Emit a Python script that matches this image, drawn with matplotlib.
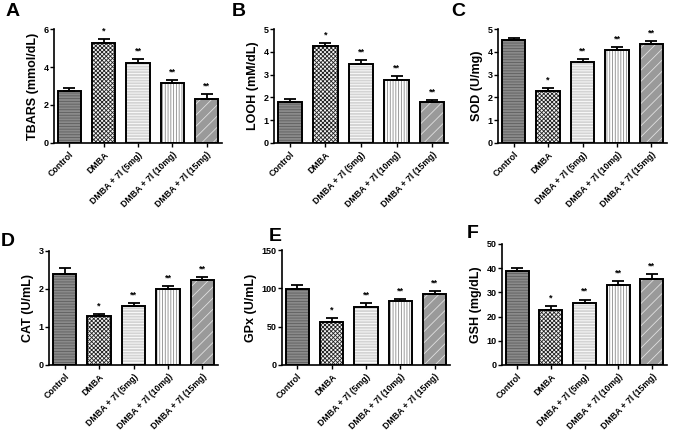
import numpy as np
import matplotlib.pyplot as plt

plt.rcParams['font.family'] = ['Liberation Sans', 'DejaVu Sans']
plt.rcParams['font.weight'] = 'bold'
plt.rcParams['hatch.linewidth'] = 0.6

groups = ['Control', 'DMBA', 'DMBA + 7l (5mg)', 'DMBA + 7l (10mg)', 'DMBA + 7l (15mg)']
stars = ['', '*', '**', '**', '**']

tbars = [2.75, 5.28, 4.22, 3.15, 2.30]
tbars_err = [0.13, 0.20, 0.22, 0.15, 0.30]
looh = [1.78, 4.25, 3.45, 2.75, 1.78]
looh_err = [0.13, 0.12, 0.20, 0.17, 0.12]
sod = [4.52, 2.30, 3.55, 4.08, 4.33]
sod_err = [0.10, 0.10, 0.15, 0.14, 0.13]
cat = [2.40, 1.28, 1.55, 2.00, 2.23]
cat_err = [0.15, 0.05, 0.07, 0.08, 0.08]
gpx = [99, 56, 76, 83, 92]
gpx_err = [5, 5, 5, 3, 4]
gsh = [39.0, 22.8, 25.7, 33.2, 35.6]
gsh_err = [1.2, 1.7, 1.3, 1.4, 2.0]

# (facecolor, hatch, hatch colour)
styles = [
    ('#8a8a8a', '------', '#5e5e5e'),
    ('#f4f4f4', 'xxxxxxxx', '#222222'),
    ('#d4d4d4', '------', 'white'),
    ('white', '||||||', '#8a8a8a'),
    ('#9a9a9a', '///', '#e0e0e0'),
]

panels = [
    ('A', tbars, tbars_err, 'TBARS (mmol/dL)', 6, [0, 2, 4, 6], [54, 29, 222, 143], (13, 12)),
    ('B', looh, looh_err, 'LOOH (mM/dL)', 5, [0, 1, 2, 3, 4, 5], [274, 29, 448, 143], (239, 11)),
    ('C', sod, sod_err, 'SOD (U/mg)', 5, [0, 1, 2, 3, 4, 5], [498, 29, 667, 143], (458, 12)),
    ('D', cat, cat_err, 'CAT (U/mL)', 3, [0, 1, 2, 3], [49, 251, 218, 365], (8, 242)),
    ('E', gpx, gpx_err, 'GPx (U/mL)', 150, [0, 50, 100, 150], [282, 250, 450, 365], (275, 237)),
    ('F', gsh, gsh_err, 'GSH (mg/dL)', 50, [0, 10, 20, 30, 40, 50], [502, 244, 667, 365], (473, 233)),
]

W, H = 675, 430
fig = plt.figure(figsize=(6.75, 4.3), dpi=100)

for letter, vals, errs, ylab, ymax, yt, box, lpos in panels:
    l, t, r, b = box
    ax = fig.add_axes([l / W, 1 - b / H, (r - l) / W, (b - t) / H])
    x = np.arange(len(vals))
    for i in range(len(vals)):
        fc, hatch, hc = styles[i]
        ax.bar(x[i], vals[i], 0.68, color=fc, hatch=hatch, edgecolor=hc, linewidth=0, zorder=2)
        ax.bar(x[i], vals[i], 0.68, fill=False, edgecolor='black', linewidth=1.4, zorder=3)
    ax.errorbar(x, vals, yerr=[np.zeros(len(errs)), errs], fmt='none', ecolor='black',
                elinewidth=1.3, capsize=4, capthick=1.3, zorder=4)
    for i in range(len(vals)):
        if stars[i]:
            ax.text(x[i], vals[i] + errs[i] + ymax * 0.03, stars[i], ha='center', va='bottom',
                    fontsize=6.5, fontweight='bold')
    ax.set_xlim(-0.45, 4.45)
    ax.set_ylim(0, ymax)
    ax.set_yticks(yt)
    ax.set_xticks(x)
    ax.set_xticklabels(groups, rotation=45, ha='right', rotation_mode='anchor', fontsize=6.3,
                       fontweight='bold')
    ax.tick_params(axis='y', labelsize=6.5, length=3, width=1, pad=1)
    ax.tick_params(axis='x', length=3, width=1, pad=2)
    ax.spines['top'].set_visible(False)
    ax.spines['right'].set_visible(False)
    ax.spines['left'].set_linewidth(1.2)
    ax.spines['bottom'].set_linewidth(1.2)
    ax.set_ylabel(ylab, fontsize=9, fontweight='bold', labelpad=3)
    fig.text(lpos[0] / W, 1 - lpos[1] / H, letter, fontsize=14, fontweight='bold',
             ha='center', va='center')

fig.savefig('out.png', dpi=100)
